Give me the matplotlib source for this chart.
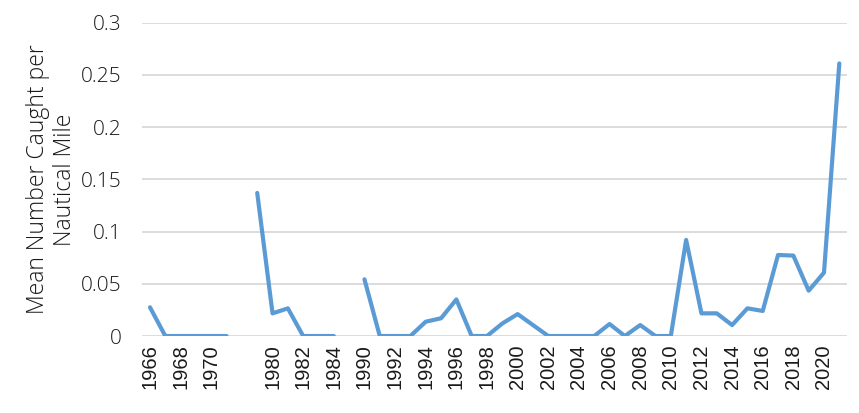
import matplotlib.pyplot as plt
import numpy as np

# categories as on the sheet: two blank rows separate the survey periods
years = ['1966', '1967', '1968', '1969', '1970', '1971', '',
         '1979', '1980', '1981', '1982', '1983', '1984', '',
         '1990', '1991', '1992', '1993', '1994', '1995', '1996', '1997',
         '1998', '1999', '2000', '2001', '2002', '2003', '2004', '2005',
         '2006', '2007', '2008', '2009', '2010', '2011', '2012', '2013',
         '2014', '2015', '2016', '2017', '2018', '2019', '2020', '2021']
catch = [0.0275, 0, 0, 0, 0, 0, np.nan,
         0.137, 0.0217, 0.0265, 0, 0, 0, np.nan,
         0.0543, 0, 0, 0, 0.0137, 0.017, 0.035, 0,
         0, 0.012, 0.021, 0.0105, 0, 0, 0, 0,
         0.0115, 0, 0.0105, 0, 0, 0.092, 0.0217, 0.0217,
         0.0105, 0.0265, 0.024, 0.0776, 0.077, 0.0434, 0.0607, 0.261]
yticks = [0, 0.05, 0.1, 0.15, 0.2, 0.25, 0.3]
ytick_labels = ['0', '0.05', '0.1', '0.15', '0.2', '0.25', '0.3']

x = np.arange(len(years))

fig = plt.figure(figsize=(8.59, 4.13), dpi=100)
ax = fig.add_axes([0.1657, 0.1864, 0.8203, 0.7586])

ax.plot(x, catch, color='#5B9BD5', linewidth=3, solid_capstyle='round',
        solid_joinstyle='round', zorder=3)

ax.set_xlim(-0.5, len(years) - 0.5)
ax.set_ylim(0, 0.3)
ax.set_yticks(yticks)
ax.set_yticklabels(ytick_labels, family='Open Sans', fontweight='light',
                   fontsize=15, color='#1a1a1a')
ax.set_xticks(x[::2])
ax.set_xticklabels(years[::2], rotation=90, family='Liberation Sans',
                   fontsize=14.5, color='#1a1a1a')

ax.grid(axis='y', color='#D9D9D9', linewidth=1.3, zorder=0)
ax.tick_params(axis='both', length=0)
ax.tick_params(axis='y', pad=15)
ax.tick_params(axis='x', pad=6)
for s in ax.spines.values():
    s.set_visible(False)

ax.set_ylabel('Mean Number Caught per\nNautical Mile', family='Open Sans',
              fontweight='light', fontsize=16.5, color='#1a1a1a',
              linespacing=1.15)
ax.yaxis.set_label_coords(-0.093, 0.5)

fig.savefig('out.png', dpi=100)
